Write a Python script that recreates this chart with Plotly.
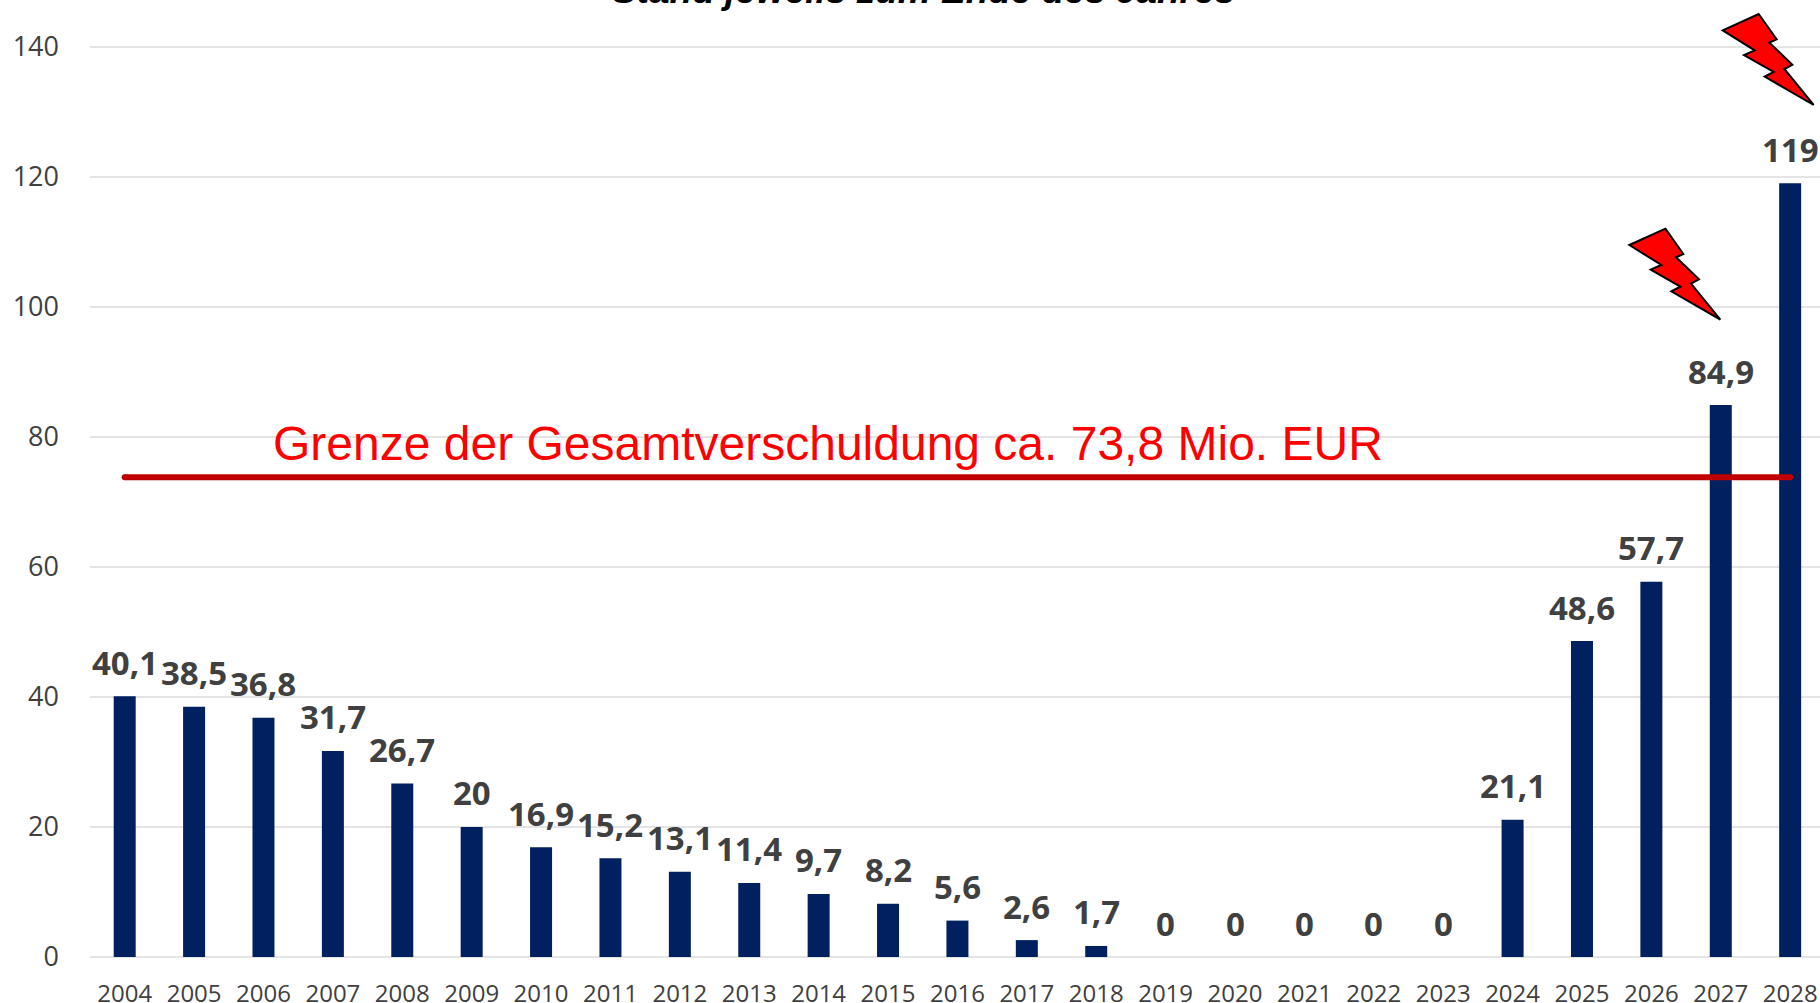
import plotly.graph_objects as go

years = [str(y) for y in range(2004, 2029)]
values = [40.1, 38.5, 36.8, 31.7, 26.7, 20, 16.9, 15.2, 13.1, 11.4, 9.7, 8.2, 5.6, 2.6, 1.7, 0, 0, 0, 0, 0, 21.1, 48.6, 57.7, 84.9, 119]
labels = ["40,1", "38,5", "36,8", "31,7", "26,7", "20", "16,9", "15,2", "13,1", "11,4", "9,7", "8,2", "5,6", "2,6", "1,7", "0", "0", "0", "0", "0", "21,1", "48,6", "57,7", "84,9", "119"]
limit = 73.8
limit_label = "Grenze der Gesamtverschuldung ca. 73,8 Mio. EUR"
title = "Stand jeweils zum Ende des Jahres"

W, H = 1820, 1003
L, B = 90, 46
PW, PH = W - L, H - B
def px(x): return (x - L) / PW
def py(y): return (PH - y) / PH

bolt = [(596,42),(650,118),(628,128),(697,194),(673,207),(761,315),(614,230),(641,216),(552,165),(584,151),(488,91)]
def bolt_path(dx, dy):
    pts = [(1560 + a / 3 + dx, b / 3 + dy) for a, b in bolt]
    return "M " + " L ".join(f"{px(x):.5f},{py(y):.5f}" for x, y in pts) + " Z"

fig = go.Figure()
fig.add_bar(x=years, y=values, width=0.317, marker=dict(color="#002060", line_width=0), cliponaxis=False)
fig.add_scatter(x=[years[0], years[-1]], y=[limit, limit], mode="lines+markers",
                line=dict(color="#C00000", width=6), marker=dict(color="#C00000", size=6, line_width=0),
                hoverinfo="skip")

shapes = [
    dict(type="rect", xref="paper", yref="paper", x0=px(267), x1=px(1418), y0=py(420), y1=py(452),
         fillcolor="white", line_width=0, layer="below"),
    dict(type="path", xref="paper", yref="paper", path=bolt_path(0, 0),
         fillcolor="#FF0000", line=dict(color="black", width=2)),
    dict(type="path", xref="paper", yref="paper", path=bolt_path(-280 / 3, 644 / 3),
         fillcolor="#FF0000", line=dict(color="black", width=2)),
]
annotations = [
    dict(text=limit_label, xref="paper", yref="paper", x=px(828), y=py(443), xanchor="center", yanchor="middle",
         showarrow=False, font=dict(family="Liberation Sans", size=48, color="#FF0000")),
    dict(text=f"<b><i>{title}</i></b>", xref="paper", yref="paper", x=px(923), y=1, xanchor="center", yanchor="bottom",
         yshift=-13, showarrow=False, font=dict(family="Liberation Sans", size=37, color="black")),
]
annotations += [
    dict(text=f"<b>{t}</b>", x=i, y=v, xref="x", yref="y", xanchor="center", yanchor="middle", yshift=34,
         showarrow=False, font=dict(family="Open Sans", size=33, color="#404040"))
    for i, (v, t) in enumerate(zip(values, labels))
]
fig.update_layout(
    width=W, height=H, margin=dict(l=L, r=0, t=0, b=B, pad=0), autosize=False,
    paper_bgcolor="white", plot_bgcolor="white", showlegend=False,
    shapes=shapes, annotations=annotations,
    xaxis=dict(type="category", range=[-0.5, 24.43], showgrid=False, showline=False, zeroline=False, automargin=False,
               ticks="", ticklabelstandoff=20, tickangle=0, tickfont=dict(family="Open Sans", size=24, color="#404040")),
    yaxis=dict(range=[0, 147.2], tickvals=list(range(0, 141, 20)), gridcolor="#E4E4E4", gridwidth=2, automargin=False,
               zeroline=True, zerolinecolor="#E4E4E4", zerolinewidth=2, showline=False,
               ticks="", ticklabelstandoff=30, tickfont=dict(family="Open Sans", size=27, color="#404040")),
)
fig.write_html("out.html", config={"displayModeBar": False},
               post_script="document.body.style.margin='0';document.body.style.overflow='hidden';")
